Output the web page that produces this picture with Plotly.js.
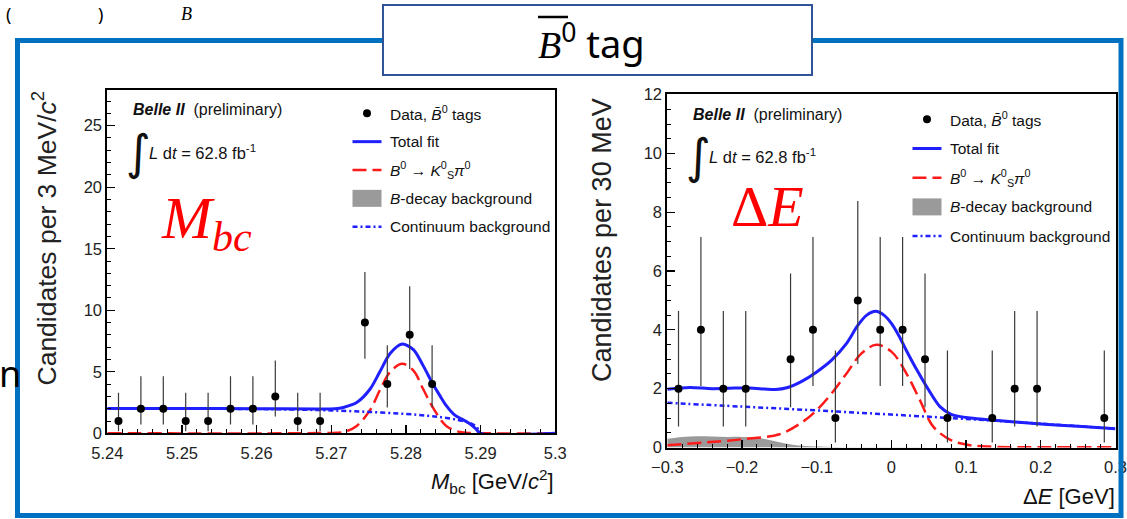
<!DOCTYPE html>
<html><head><meta charset="utf-8">
<script src="https://cdn.plot.ly/plotly-3.0.1.min.js"></script>
<style>html,body{margin:0;padding:0;background:#fff;overflow:hidden}#chart{width:1127px;height:519px}</style>
</head><body><div id="chart"></div>
<script>
// ---------- M_bc panel ----------
const mbcX   = [5.2415,5.2445,5.2475,5.2505,5.2535,5.2565,5.2595,5.2625,5.2655,5.2685,5.2745,5.2775,5.2805,5.2835];
const mbcN   = [1,2,2,1,1,2,2,3,1,1,9,4,8,4];
const mbcHi  = [3.30,4.64,4.64,3.30,3.30,4.64,4.64,5.92,3.30,3.30,13.11,7.16,11.95,7.16];
const mbcLo  = [0.17,0.71,0.71,0.17,0.17,0.71,0.71,1.37,0.17,0.17,6.06,2.09,5.23,2.09];

const mbcTotX = [5.24,5.25,5.26,5.268,5.2705,5.2716,5.2734,5.2752,5.2765,5.2779,5.2795,5.281,5.2823,5.2836,5.2845,5.2854,5.2865,5.2875,5.2885,5.2893,5.29,5.3];
const mbcTotY = [2.02,2.02,2.0,1.98,2.0,2.1,2.5,3.6,5.0,6.5,7.25,6.8,5.5,4.0,3.1,2.25,1.5,1.15,0.8,0.4,0,0];

const mbcSigX = [5.24,5.265,5.269,5.2716,5.2734,5.2752,5.2765,5.2779,5.2795,5.281,5.2823,5.2836,5.2854,5.2872,5.289,5.3];
const mbcSigY = [0,0,0.03,0.1,0.6,1.9,3.5,5.0,5.65,5.1,3.6,2.1,0.6,0.1,0.02,0];

const mbcContX = [5.24,5.25,5.26,5.265,5.27,5.275,5.28,5.283,5.285,5.287,5.2885,5.2895,5.29,5.3];
const mbcContY = [2.0,2.0,1.97,1.93,1.86,1.74,1.57,1.42,1.28,1.08,0.85,0.5,0,0];

// ---------- Delta E panel ----------
const deX  = [-0.285,-0.255,-0.225,-0.195,-0.135,-0.105,-0.075,-0.045,-0.015,0.015,0.045,0.075,0.135,0.165,0.195,0.285];
const deN  = [2,4,2,2,3,4,1,5,4,4,3,1,1,2,2,1];
const deHi = [4.64,7.16,4.64,4.64,5.92,7.16,3.30,8.38,7.16,7.16,5.92,3.30,3.30,4.64,4.64,3.30];
const deLo = [0.71,2.09,0.71,0.71,1.37,2.09,0.17,2.84,2.09,2.09,1.37,0.17,0.17,0.71,0.71,0.17];

const deTotX = [-0.3,-0.27,-0.24,-0.21,-0.19,-0.17,-0.155,-0.14,-0.12,-0.1,-0.08,-0.06,-0.045,-0.033,-0.021,-0.01,0,0.01,0.02,0.034,0.05,0.065,0.08,0.1,0.15,0.2,0.25,0.3];
const deTotY = [1.98,2.04,2.0,2.02,2.02,1.99,1.97,2.03,2.25,2.57,2.97,3.54,4.15,4.5,4.63,4.5,4.22,3.8,3.3,2.64,1.95,1.39,1.13,1.02,0.9,0.8,0.72,0.64];

const deSigX = [-0.3,-0.25,-0.2,-0.15,-0.12,-0.1,-0.08,-0.06,-0.04,-0.02,0,0.02,0.038,0.056,0.079,0.1,0.13,0.2,0.3];
const deSigY = [0.08,0.17,0.28,0.45,0.85,1.27,1.84,2.52,3.2,3.49,3.26,2.52,1.62,0.71,0.26,0.1,0.03,0.01,0.01];

const deContX = [-0.3,-0.2,-0.1,0,0.1,0.2,0.3];
const deContY = [1.52,1.39,1.26,1.12,0.97,0.81,0.64];

const deBkgX = [-0.3,-0.28,-0.26,-0.24,-0.22,-0.2,-0.18,-0.16,-0.14,-0.12,-0.1,-0.08,-0.05,0,0.1,0.2,0.3];
const deBkgY = [0.30,0.36,0.38,0.37,0.36,0.36,0.33,0.24,0.13,0.06,0.03,0.02,0.01,0.01,0,0,0];

// ---------- text ----------
const mbcTicks = [5.24,5.25,5.26,5.27,5.28,5.29,5.3];
const deTicks  = [-0.3,-0.2,-0.1,0,0.1,0.2,0.3];
const legendLabels = ['Data, <i>B\u0304</i><sup>0</sup> tags','Total fit','<i>B</i><sup>0</sup> \u2192 <i>K</i><sup>0</sup><sub>S</sub><i>\u03c0</i><sup>0</sup>','<i>B</i>-decay background','Continuum background'];

const W = 1127, H = 519;
const px = x => x / W, py = y => 1 - y / H;
const FONT = 'Liberation Sans, Arial, sans-serif';
const BLUE = '#1f1fff', RED = '#ff1a1a';

function errs(n, hi, lo){ return {type:'data', symmetric:false, array:hi.map((h,i)=>h-n[i]), arrayminus:n.map((v,i)=>v-lo[i]), thickness:1.2, width:0, color:'#3a3a3a'}; }

const traces = [
  {x:deBkgX, y:deBkgY, xaxis:'x2', yaxis:'y2', mode:'lines', line:{width:0, shape:'spline'}, fill:'tozeroy', fillcolor:'#9a9a9a', hoverinfo:'skip'},
  {x:mbcSigX, y:mbcSigY, mode:'lines', line:{color:RED, width:2.5, dash:'14px,6px', shape:'spline'}},
  {x:mbcContX, y:mbcContY, mode:'lines', line:{color:BLUE, width:2.5, dash:'5px,3px,2px,3px', shape:'spline'}},
  {x:mbcTotX, y:mbcTotY, mode:'lines', line:{color:BLUE, width:3, shape:'spline', smoothing:0.8}},
  {x:mbcX, y:mbcN, mode:'markers', marker:{color:'#000', size:8}, error_y:errs(mbcN,mbcHi,mbcLo)},
  {x:deSigX, y:deSigY, xaxis:'x2', yaxis:'y2', mode:'lines', line:{color:RED, width:2.5, dash:'14px,6px', shape:'spline'}},
  {x:deContX, y:deContY, xaxis:'x2', yaxis:'y2', mode:'lines', line:{color:BLUE, width:2.5, dash:'5px,3px,2px,3px', shape:'spline'}},
  {x:deTotX, y:deTotY, xaxis:'x2', yaxis:'y2', mode:'lines', line:{color:BLUE, width:3, shape:'spline', smoothing:0.8}},
  {x:deX, y:deN, xaxis:'x2', yaxis:'y2', mode:'markers', marker:{color:'#000', size:8}, error_y:errs(deN,deHi,deLo)}
];

function axis(extra){
  return Object.assign({showline:true, mirror:true, linecolor:'#000', linewidth:2, showgrid:false, zeroline:false,
    ticks:'inside', ticklen:8, tickwidth:1.2, tickcolor:'#000', automargin:false,
    tickfont:{family:FONT, size:16.5, color:'#222'}}, extra);
}

const layout = {
  width:W, height:H, margin:{l:0,r:0,t:0,b:0}, paper_bgcolor:'#fff', plot_bgcolor:'#fff', showlegend:false,
  xaxis: axis({domain:[px(107.3),px(555.3)], range:[5.24,5.3], tickvals:mbcTicks, ticktext:mbcTicks.map(String), anchor:'y', ticklabelstandoff:4,
    minor:{dtick:0.002, ticklen:4, ticks:'inside', tickcolor:'#000', tickwidth:1}}),
  yaxis: axis({domain:[py(433.3),py(90)], range:[0,27.9], dtick:5, anchor:'x',
    minor:{dtick:1, ticklen:4, ticks:'inside', tickcolor:'#000', tickwidth:1}}),
  xaxis2: axis({domain:[px(667.3),px(1115.5)], range:[-0.3,0.3], tickvals:deTicks, anchor:'y2', ticklabelstandoff:4,
    minor:{dtick:0.02, ticklen:4, ticks:'inside', tickcolor:'#000', tickwidth:1}}),
  yaxis2: axis({domain:[py(447.5),py(94.3)], range:[0,12.01], dtick:2, anchor:'x2',
    minor:{dtick:0.5, ticklen:4, ticks:'inside', tickcolor:'#000', tickwidth:1}}),
  shapes:[], annotations:[]
};

const S = layout.shapes, A = layout.annotations;
function ann(x,y,text,size,opt){ A.push(Object.assign({xref:'paper',yref:'paper',x:px(x),y:py(y),text:text,showarrow:false,xanchor:'left',yanchor:'middle',
  font:{family:FONT,size:size,color:'#111'}}, opt||{})); }

// outer blue frame and title box
S.push({type:'rect',xref:'paper',yref:'paper',x0:px(17.5),x1:px(1121),y0:py(40.5),y1:py(515.5),line:{color:'#0070c0',width:5},layer:'above'});
S.push({type:'rect',xref:'paper',yref:'paper',x0:px(383),x1:px(812),y0:py(5),y1:py(75),line:{color:'#2f5597',width:2},fillcolor:'#fff',layer:'above'});
S.push({type:'line',xref:'paper',yref:'paper',x0:px(538),x1:px(568),y0:py(17),y1:py(17),line:{color:'#000',width:2.5},layer:'above'});
ann(536,42,'<span style="font-family:Liberation Serif"><i>B</i></span><sup>0</sup> tag',40,{font:{family:'Noto Sans, sans-serif',size:38,color:'#000'}});

// legends
function legend(ox, oy, dy){
  const lx0 = ox, lx1 = ox+29, tx = ox+35;
  const ys = [0,dy,2*dy,3*dy,4*dy].map(v=>oy+v);
  S.push({type:'circle',xref:'paper',yref:'paper',x0:px(ox+14.5-4),x1:px(ox+14.5+4),y0:py(ys[0]-4),y1:py(ys[0]+4),fillcolor:'#000',line:{width:0},layer:'above'});
  S.push({type:'line',xref:'paper',yref:'paper',x0:px(lx0),x1:px(lx1),y0:py(ys[1]),y1:py(ys[1]),line:{color:BLUE,width:3},layer:'above'});
  S.push({type:'line',xref:'paper',yref:'paper',x0:px(lx0),x1:px(lx1),y0:py(ys[2]),y1:py(ys[2]),line:{color:RED,width:2.5,dash:'14px,6px'},layer:'above'});
  S.push({type:'rect',xref:'paper',yref:'paper',x0:px(lx0),x1:px(lx1),y0:py(ys[3]-8.5),y1:py(ys[3]+8.5),fillcolor:'#9a9a9a',line:{width:0},layer:'above'});
  S.push({type:'line',xref:'paper',yref:'paper',x0:px(lx0),x1:px(lx1),y0:py(ys[4]),y1:py(ys[4]),line:{color:BLUE,width:2.5,dash:'5px,3px,2px,3px'},layer:'above'});
  legendLabels.forEach((t,i)=>ann(tx, ys[i], t, 15.5));
}
legend(352.5, 113.3, 28.35);
legend(912.5, 119.3, 29.2);

// Belle II labels
function belle(ox, oy, dy2){
  ann(ox, oy, '<b><i>Belle II</i></b>  (preliminary)', 16);
  ann(ox-7, oy+dy2, '\u222b', 48, {font:{family:'DejaVu Sans, sans-serif',size:48,color:'#111'}});
  ann(ox+16, oy+dy2, '<i>L</i> d<i>t</i> = 62.8 fb<sup>-1</sup>', 16.5);
}
belle(130.7, 109.3, 42.4);
belle(690.5, 114.3, 41.7);

// big red labels
ann(159, 222, '<i>M<sub>bc</sub></i>', 60, {font:{family:'Liberation Serif, serif',size:60,color:'#ff0000'}});
ann(729, 206, '\u0394<i>E</i>', 58, {font:{family:'Liberation Serif, serif',size:58,color:'#ff0000'}});

// axis titles
ann(44, 238.5, 'Candidates per 3 MeV/<i>c</i><sup>2</sup>', 26.5, {xanchor:'center', textangle:-90, font:{family:FONT,size:26.5,color:'#222'}});
ann(602, 240, 'Candidates per 30 MeV', 27, {xanchor:'center', textangle:-90, font:{family:FONT,size:27,color:'#222'}});
ann(556, 481, '<i>M</i><sub>bc</sub> [GeV/<i>c</i><sup>2</sup>]', 22, {xanchor:'right'});
ann(1117, 496.5, '\u0394<i>E</i> [GeV]', 22, {xanchor:'right'});

// partly visible slide text
ann(10, 373, 'n', 36, {xanchor:'center', font:{family:'Noto Sans, sans-serif',size:36,color:'#000'}});
ann(8, 14, '(', 18, {xanchor:'center', font:{family:'Noto Sans, sans-serif',size:18,color:'#000'}});
ann(100, 14, ')', 18, {xanchor:'center', font:{family:'Noto Sans, sans-serif',size:18,color:'#000'}});
ann(186, 14, '<i>B</i>', 18, {xanchor:'center', font:{family:'Liberation Serif, serif',size:18,color:'#000'}});

Plotly.newPlot('chart', traces, layout, {staticPlot:true, displayModeBar:false});
</script></body></html>
